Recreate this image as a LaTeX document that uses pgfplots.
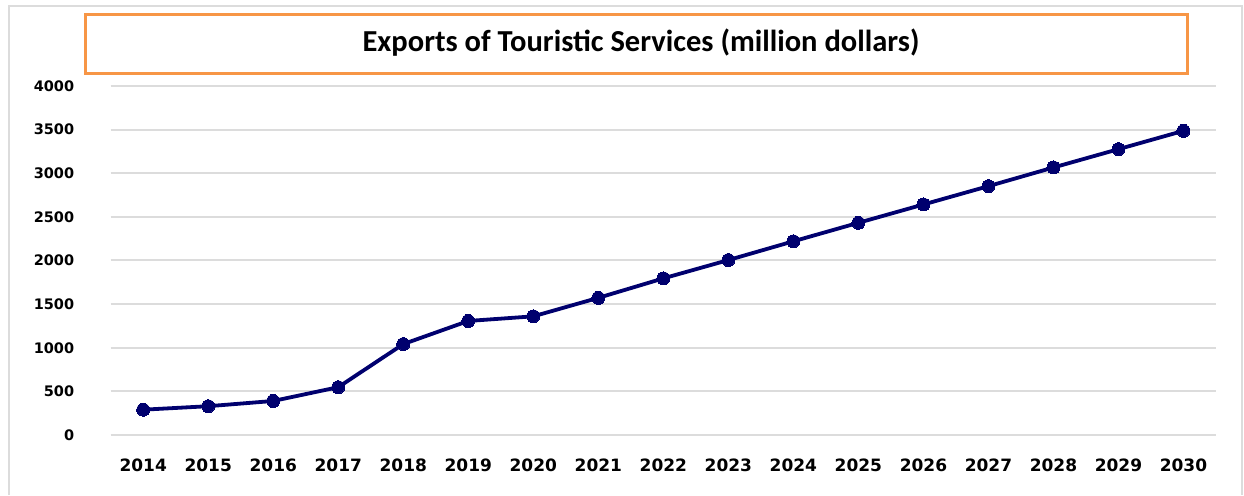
\documentclass[border=0pt]{standalone}
\usepackage{pgfplots}
\pgfplotsset{compat=1.18}
\usepackage{fontspec}
\setmainfont{DejaVu Sans}
\newfontfamily\titlefont{Carlito}
\definecolor{navy}{RGB}{0,0,110}
\definecolor{orangebox}{RGB}{247,150,70}
\definecolor{gridgray}{RGB}{220,220,220}
\begin{document}
\begin{tikzpicture}[x=1pt,y=1pt]
\fill[white] (0,0) rectangle (1244,495);
\draw[gridgray, line width=1.5pt] (9,0) -- (9,489) -- (1242,489) -- (1242,0);
\draw[orangebox, line width=3pt] (85,421) rectangle (1187,480);
\node[font=\titlefont\bfseries\fontsize{30.5}{34}\selectfont, anchor=base, inner sep=0pt] at (641,443.5) {Exports of Touristic Services (million dollars)};
\begin{axis}[at={(110.7pt,60pt)}, anchor=south west, scale only axis,
  width=1105.3pt, height=349pt,
  xmin=-0.5, xmax=16.5, ymin=0, ymax=4000,
  axis line style={draw=none}, major tick length=0pt,
  ytick={0,500,...,4000}, xtick={0,...,16},
  xticklabels={2014,2015,2016,2017,2018,2019,2020,2021,2022,2023,2024,2025,2026,2027,2028,2029,2030},
  ymajorgrids, grid style={gridgray, line width=2pt},
  clip=false,
  /pgf/number format/assume math mode=true,
  /pgf/number format/1000 sep={},
  xticklabel style={font=\bfseries\fontsize{17}{20}\selectfont, yshift=-20pt},
  yticklabel style={font=\bfseries\fontsize{14.5}{17}\selectfont, xshift=-33pt},
]
\addplot[navy, line width=3.8pt, mark=*, mark size=6.5pt, mark options={fill=navy, line width=0pt}] coordinates {
(0,290) (1,330) (2,390) (3,548) (4,1042) (5,1307) (6,1360) (7,1572) (8,1795)
(9,2005) (10,2220) (11,2432) (12,2642) (13,2852) (14,3066) (15,3276) (16,3486)
};
\end{axis}
\end{tikzpicture}
\end{document}
